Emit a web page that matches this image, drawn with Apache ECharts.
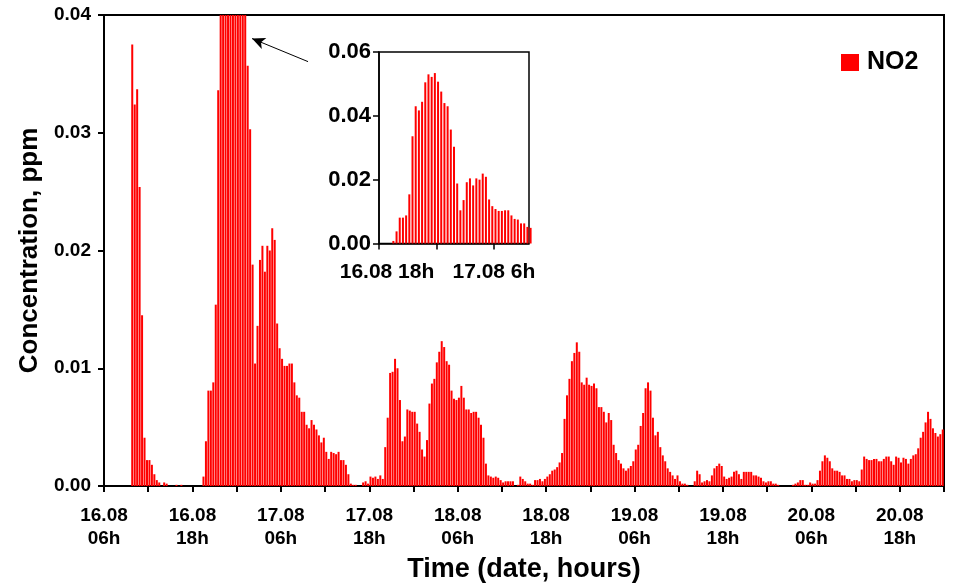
<!DOCTYPE html>
<html>
<head>
<meta charset="utf-8">
<script src="https://cdn.jsdelivr.net/npm/echarts@6/dist/echarts.min.js"></script>
<style>
html,body{margin:0;padding:0;background:#fff;}
#chart{width:953px;height:588px;}
</style>
</head>
<body>
<div id="chart"></div>
<script>
// NO2 concentration (ppm), one value per 20 minutes, starting 16.08 06:00
const day16 = [0,0,0,0,0,0,0,0,0,0,0,
  0.0375,0.0324,0.0337,0.0254,0.0145,0.0041,0.0022,0.0022,0.0018,0.0010,0.0005,0.0003,0,0.0003,0.0002,0,0,0,0.0001,0,0.0001,
  0,0,0,0,0,0,0,0,
  0.0008,0.0038,0.0081,0.0081,0.0088,0.0154,0.0336,0.0430,0.0417,0.0444,0.0505,0.0530,0.0522,0.0534];
const day17 = [0.0507,0.0476,0.0440,0.0430,0.0357,0.0303,0.0188,0.0104,0.0136,0.0192,0.0204,0.0182,
  0.0204,0.0200,0.0219,0.0209,0.0138,0.0117,0.0108,0.0102,0.0102,0.0104,0.0104,0.0088,
  0.0077,0.0075,0.0063,0.0063,0.0052,0.0049,0.0056,0.0052,0.0048,0.0043,0.0037,0.0041,
  0.0029,0.0023,0.0029,0.0028,0.0027,0.0029,0.0022,0.0022,0.0018,0.0010,0.0002,0.0001,
  0.0001,0,0,0.0003,0.0004,0.0002,0.0008,0.0007,0.0008,0.0006,0.0009,0.0006,
  0.0033,0.0058,0.0096,0.0097,0.0108,0.0100,0.0073,0.0038,0.0042,0.0065,0.0064,0.0063];
const day18 = [0.0063,0.0053,0.0046,0.0031,0.0025,0.0039,0.0070,0.0087,0.0091,0.0105,0.0114,0.0123,
  0.0118,0.0106,0.0103,0.0081,0.0074,0.0073,0.0075,0.0085,0.0075,0.0065,0.0065,0.0062,
  0.0063,0.0063,0.0058,0.0052,0.0041,0.0019,0.0009,0.0008,0.0007,0.0008,0.0007,0.0005,
  0.0003,0.0004,0.0004,0.0004,0.0004,0,0.0001,0.0008,0.0006,0.0004,0.0002,0.0002,
  0.0001,0.0005,0.0005,0.0006,0.0004,0.0006,0.0008,0.0010,0.0013,0.0014,0.0016,0.0020,
  0.0028,0.0057,0.0077,0.0091,0.0106,0.0113,0.0122,0.0114,0.0088,0.0086,0.0092,0.0086];
const day19 = [0.0085,0.0087,0.0083,0.0067,0.0067,0.0063,0.0054,0.0062,0.0056,0.0035,0.0028,0.0022,
  0.0019,0.0015,0.0013,0.0015,0.0017,0.0021,0.0031,0.0035,0.0051,0.0062,0.0083,0.0088,
  0.0081,0.0058,0.0043,0.0046,0.0033,0.0026,0.0021,0.0015,0.0012,0.0009,0.0006,0.0009,
  0.0004,0.0002,0.0002,0.0001,0,0,0.0004,0.0013,0.0010,0.0003,0.0004,0.0005,
  0.0004,0.0009,0.0015,0.0017,0.0019,0.0017,0.0008,0.0006,0.0007,0.0008,0.0012,0.0013,
  0.0010,0.0006,0.0012,0.0012,0.0012,0.0012,0.0009,0.0009,0.0008,0.0007,0.0004,0.0003];
const day20 = [0.0004,0.0004,0.0002,0.0002,0.0001,0,0,0,0,0,0.0001,0.0002,
  0.0003,0.0005,0.0005,0.0001,0.0001,0.0003,0.0002,0.0002,0.0005,0.0013,0.0021,0.0026,
  0.0024,0.0021,0.0015,0.0013,0.0013,0.0012,0.0009,0.0009,0.0006,0.0006,0.0004,0.0005,
  0.0005,0.0004,0.0014,0.0025,0.0023,0.0022,0.0022,0.0023,0.0023,0.0021,0.0021,0.0023,
  0.0025,0.0025,0.0021,0.0018,0.0025,0.0024,0.0020,0.0024,0.0023,0.0019,0.0023,0.0026,
  0.0027,0.0032,0.0041,0.0046,0.0054,0.0063,0.0057,0.0049,0.0045,0.0042,0.0044,0.0048];

const no2 = [].concat(day16, day17, day18, day19, day20);
const stepHours = 1 / 3; // 20-minute sampling

// tick labels (hours since 16.08 06h)
const mainTickHours = [0, 12, 24, 36, 48, 60, 72, 84, 96, 108];
const mainTickLabels = ['16.08\n06h','16.08\n18h','17.08\n06h','17.08\n18h','18.08\n06h',
                        '18.08\n18h','19.08\n06h','19.08\n18h','20.08\n06h','20.08\n18h'];
const insetTickHours = [12, 24];
const insetTickLabels = ['16.08 18h', '17.08 6h'];

// annotation arrow (data coordinates of main chart)
const arrowFrom = [27.69, 0.03604];
const arrowTo = [20.09, 0.0380];

const seriesData = no2.map((v, i) => [(i + 0.5) * stepHours, v]);

const font = "'Liberation Sans', Arial, Helvetica, sans-serif";
const chart = echarts.init(document.getElementById('chart'), null, {renderer: 'canvas'});

const option = {
  animation: false,
  backgroundColor: '#ffffff',
  textStyle: {fontFamily: font},
  grid: [
    {left: 104, top: 15, width: 840, height: 473, show: true, borderColor: '#000', borderWidth: 2, backgroundColor: 'transparent'},
    {left: 379, top: 52, width: 150, height: 191.5, show: true, borderColor: '#000', borderWidth: 1.5, backgroundColor: '#fff'}
  ],
  legend: {
    data: ['NO2'], left: 836, top: 45, icon: 'rect', itemWidth: 18, itemHeight: 17,
    selectedMode: false,
    textStyle: {fontSize: 25, fontWeight: 'bold', color: '#000', fontFamily: font, padding: [0, 0, 0, 3]}
  },
  xAxis: [
    {
      type: 'value', gridIndex: 0, min: 0, max: 114, interval: 6,
      axisLine: {show: true, onZero: false, lineStyle: {color: '#000', width: 2}},
      axisTick: {show: true, length: 6, lineStyle: {color: '#000', width: 2}},
      splitLine: {show: false},
      axisLabel: {
        customValues: mainTickHours,
        formatter: v => { const k = mainTickHours.indexOf(Math.round(v)); return k >= 0 ? mainTickLabels[k] : ''; },
        fontSize: 19, fontWeight: 'bold', color: '#000', fontFamily: font, lineHeight: 23, margin: 18
      },
      name: 'Time (date, hours)', nameLocation: 'middle', nameGap: 70,
      nameTextStyle: {fontSize: 27, fontWeight: 'bold', color: '#000', fontFamily: font}
    },
    {
      type: 'value', gridIndex: 1, min: 12, max: 12 + 47 * stepHours, interval: 6,
      axisLine: {show: true, onZero: false, lineStyle: {color: '#000', width: 1.5}},
      axisTick: {show: true, length: 6, customValues: [12, 18, 24], lineStyle: {color: '#000', width: 1.5}},
      splitLine: {show: false},
      axisLabel: {
        customValues: insetTickHours,
        formatter: v => {
          const k = insetTickHours.indexOf(Math.round(v));
          if (k < 0) return '';
          return k === 0 ? '{a|' + insetTickLabels[k] + '}' : '{b|' + insetTickLabels[k] + '}';
        },
        rich: {
          a: {fontSize: 21, fontWeight: 'bold', color: '#000', fontFamily: font, padding: [0, 0, 0, 16]},
          b: {fontSize: 21, fontWeight: 'bold', color: '#000', fontFamily: font}
        },
        fontSize: 21, fontWeight: 'bold', color: '#000', fontFamily: font, margin: 18
      }
    }
  ],
  yAxis: [
    {
      type: 'value', gridIndex: 0, min: 0, max: 0.04, interval: 0.01,
      axisLine: {show: true, lineStyle: {color: '#000', width: 2}},
      axisTick: {show: true, length: 6, lineStyle: {color: '#000', width: 2}},
      splitLine: {show: false},
      axisLabel: {formatter: v => v.toFixed(2), fontSize: 19, fontWeight: 'bold', color: '#000', fontFamily: font, margin: 13},
      name: 'Concentration, ppm', nameLocation: 'middle', nameGap: 60,
      nameTextStyle: {fontSize: 26, fontWeight: 'bold', color: '#000', fontFamily: font}
    },
    {
      type: 'value', gridIndex: 1, min: 0, max: 0.06, interval: 0.02,
      axisLine: {show: true, lineStyle: {color: '#000', width: 1.5}},
      axisTick: {show: true, length: 6, lineStyle: {color: '#000', width: 1.5}},
      splitLine: {show: false},
      axisLabel: {formatter: v => v.toFixed(2), fontSize: 22, fontWeight: 'bold', color: '#000', fontFamily: font, margin: 8}
    }
  ],
  series: [
    {
      type: 'bar', name: 'NO2', xAxisIndex: 0, yAxisIndex: 0, data: seriesData,
      barWidth: 2, clip: true, itemStyle: {color: '#ff0000'},
      markLine: {
        silent: true, symbol: ['none', 'arrow'], symbolSize: [9, 13],
        label: {show: false}, lineStyle: {color: '#000', width: 1, type: 'solid'},
        data: [[{coord: arrowFrom}, {coord: arrowTo}]]
      }
    },
    {
      type: 'bar', name: 'NO2', xAxisIndex: 1, yAxisIndex: 1, data: seriesData,
      barWidth: 2, clip: true, itemStyle: {color: '#ff0000'}
    }
  ]
};
chart.setOption(option);
</script>
</body>
</html>
